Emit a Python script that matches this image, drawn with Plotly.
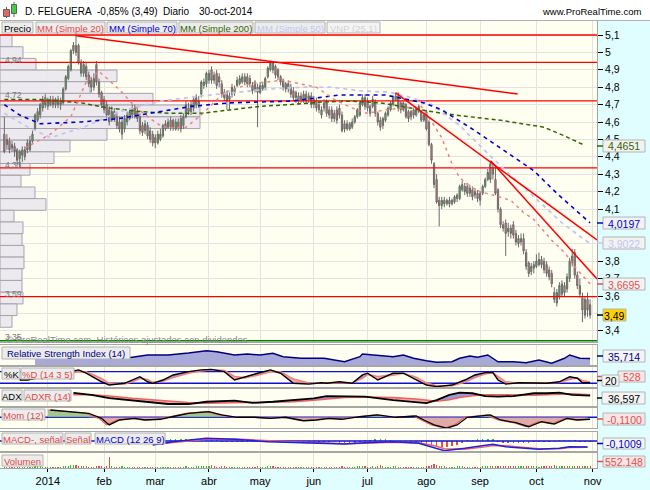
import plotly.graph_objects as go

W, H = 650, 490
PLOT_R = 597
X_RANGE = [-18.7, 214.7]
FONT = "Liberation Sans, Arial, sans-serif"


def px(x):
    return x / W


def py(y):
    return 1 - y / H


# ---------------------------------------------------------------- data
day = list(range(-17, 213))  # trading-day index, 0 = 2 Jan 2014

open_ = [4.53, 4.50, 4.49, 4.47, 4.46, 4.44, 4.39, 4.44, 4.40, 4.48,
         4.44, 4.49, 4.56, 4.61, 4.64, 4.68, 4.74, 4.69, 4.70, 4.73,
         4.70, 4.73, 4.72, 4.71, 4.79, 4.85, 4.90, 5.01, 5.04, 5.04,
         4.94, 4.88, 4.92, 4.87, 4.84, 4.80, 4.93, 4.83, 4.77, 4.73,
         4.70, 4.67, 4.61, 4.66, 4.63, 4.60, 4.53, 4.56, 4.60, 4.62,
         4.64, 4.68, 4.66, 4.63, 4.58, 4.55, 4.58, 4.55, 4.53, 4.51,
         4.48, 4.50, 4.52, 4.56, 4.57, 4.61, 4.61, 4.56, 4.60, 4.62,
         4.58, 4.63, 4.68, 4.66, 4.68, 4.70, 4.70, 4.76, 4.81, 4.82,
         4.84, 4.90, 4.87, 4.88, 4.86, 4.82, 4.77, 4.77, 4.75, 4.76,
         4.77, 4.81, 4.82, 4.83, 4.86, 4.86, 4.85, 4.81, 4.83, 4.80,
         4.77, 4.79, 4.80, 4.86, 4.90, 4.94, 4.92, 4.90, 4.86, 4.84,
         4.82, 4.79, 4.80, 4.78, 4.77, 4.75, 4.73, 4.73, 4.76, 4.73,
         4.75, 4.73, 4.72, 4.70, 4.64, 4.68, 4.71, 4.67, 4.67, 4.65,
         4.67, 4.68, 4.64, 4.59, 4.56, 4.59, 4.57, 4.60, 4.63, 4.64,
         4.70, 4.74, 4.72, 4.69, 4.69, 4.71, 4.65, 4.61, 4.58, 4.61,
         4.64, 4.67, 4.70, 4.73, 4.75, 4.71, 4.67, 4.70, 4.66, 4.66,
         4.67, 4.64, 4.66, 4.66, 4.61, 4.66, 4.60, 4.47, 4.36, 4.27,
         4.15, 4.12, 4.15, 4.13, 4.15, 4.13, 4.14, 4.16, 4.16, 4.21,
         4.23, 4.23, 4.19, 4.21, 4.20, 4.19, 4.19, 4.19, 4.23, 4.27,
         4.36, 4.30, 4.27, 4.21, 4.10, 4.01, 4.02, 3.99, 3.99, 4.01,
         3.96, 3.90, 3.91, 3.93, 3.85, 3.79, 3.74, 3.78, 3.77, 3.78,
         3.81, 3.80, 3.78, 3.75, 3.73, 3.62, 3.56, 3.60, 3.61, 3.66,
         3.64, 3.70, 3.79, 3.85, 3.72, 3.66, 3.59, 3.49, 3.58, 3.55]

high_ = [4.63, 4.53, 4.51, 4.49, 4.48, 4.45, 4.44, 4.46, 4.46, 4.50,
         4.52, 4.55, 4.65, 4.68, 4.71, 4.75, 4.76, 4.74, 4.75, 4.75,
         4.74, 4.75, 4.74, 4.80, 4.87, 4.93, 5.02, 5.06, 5.10, 5.05,
         4.96, 4.95, 4.94, 4.89, 4.86, 4.88, 4.95, 4.85, 4.78, 4.75,
         4.72, 4.69, 4.69, 4.68, 4.66, 4.63, 4.62, 4.64, 4.66, 4.68,
         4.70, 4.70, 4.68, 4.65, 4.60, 4.61, 4.60, 4.57, 4.55, 4.53,
         4.55, 4.56, 4.59, 4.61, 4.62, 4.63, 4.62, 4.62, 4.62, 4.64,
         4.65, 4.72, 4.71, 4.72, 4.75, 4.76, 4.75, 4.84, 4.85, 4.89,
         4.90, 4.92, 4.89, 4.90, 4.88, 4.84, 4.79, 4.78, 4.77, 4.82,
         4.81, 4.86, 4.87, 4.88, 4.88, 4.88, 4.87, 4.83, 4.84, 4.82,
         4.83, 4.83, 4.86, 4.92, 4.95, 4.95, 4.93, 4.91, 4.87, 4.85,
         4.83, 4.84, 4.82, 4.80, 4.78, 4.77, 4.77, 4.78, 4.78, 4.77,
         4.77, 4.75, 4.74, 4.72, 4.69, 4.73, 4.73, 4.69, 4.69, 4.67,
         4.69, 4.70, 4.66, 4.61, 4.61, 4.60, 4.62, 4.64, 4.68, 4.72,
         4.76, 4.76, 4.74, 4.70, 4.75, 4.73, 4.66, 4.63, 4.63, 4.66,
         4.69, 4.72, 4.75, 4.77, 4.77, 4.72, 4.72, 4.71, 4.67, 4.67,
         4.68, 4.68, 4.70, 4.67, 4.65, 4.67, 4.61, 4.48, 4.37, 4.30,
         4.17, 4.17, 4.17, 4.16, 4.17, 4.16, 4.18, 4.19, 4.24, 4.26,
         4.25, 4.25, 4.24, 4.23, 4.22, 4.21, 4.20, 4.24, 4.28, 4.33,
         4.38, 4.36, 4.34, 4.22, 4.11, 4.03, 4.04, 4.02, 4.01, 4.03,
         3.98, 3.95, 3.96, 3.96, 3.87, 3.80, 3.79, 3.80, 3.84, 3.85,
         3.83, 3.82, 3.80, 3.77, 3.75, 3.65, 3.64, 3.68, 3.69, 3.68,
         3.73, 3.82, 3.87, 3.87, 3.74, 3.70, 3.62, 3.60, 3.62, 3.58]

low_ = [4.42, 4.44, 4.42, 4.43, 4.40, 4.35, 4.34, 4.37, 4.38, 4.42,
        4.43, 4.48, 4.55, 4.60, 4.62, 4.66, 4.68, 4.67, 4.69, 4.68,
        4.68, 4.68, 4.67, 4.70, 4.78, 4.84, 4.89, 4.99, 4.98, 4.93,
        4.86, 4.86, 4.84, 4.80, 4.77, 4.78, 4.81, 4.74, 4.68, 4.65,
        4.62, 4.58, 4.60, 4.60, 4.56, 4.54, 4.50, 4.54, 4.58, 4.61,
        4.62, 4.62, 4.60, 4.53, 4.52, 4.53, 4.50, 4.48, 4.46, 4.45,
        4.47, 4.49, 4.51, 4.55, 4.56, 4.55, 4.55, 4.55, 4.55, 4.54,
        4.56, 4.62, 4.64, 4.64, 4.66, 4.68, 4.68, 4.74, 4.79, 4.80,
        4.82, 4.82, 4.82, 4.79, 4.80, 4.74, 4.72, 4.67, 4.67, 4.74,
        4.75, 4.80, 4.81, 4.82, 4.81, 4.80, 4.80, 4.76, 4.77, 4.57,
        4.76, 4.78, 4.79, 4.85, 4.89, 4.88, 4.85, 4.84, 4.81, 4.78,
        4.77, 4.77, 4.74, 4.72, 4.71, 4.70, 4.71, 4.71, 4.71, 4.71,
        4.68, 4.68, 4.66, 4.65, 4.62, 4.66, 4.63, 4.62, 4.60, 4.60,
        4.59, 4.62, 4.54, 4.54, 4.55, 4.55, 4.56, 4.59, 4.62, 4.63,
        4.69, 4.67, 4.66, 4.63, 4.68, 4.63, 4.58, 4.55, 4.56, 4.60,
        4.63, 4.66, 4.69, 4.72, 4.66, 4.65, 4.66, 4.62, 4.60, 4.61,
        4.62, 4.63, 4.65, 4.60, 4.60, 4.55, 4.46, 4.36, 4.22, 4.13,
        4.00, 4.10, 4.11, 4.12, 4.11, 4.12, 4.13, 4.14, 4.15, 4.20,
        4.18, 4.17, 4.17, 4.15, 4.16, 4.14, 4.12, 4.18, 4.22, 4.26,
        4.25, 4.27, 4.18, 4.08, 3.99, 3.97, 3.83, 3.94, 3.93, 3.93,
        3.89, 3.88, 3.89, 3.84, 3.75, 3.71, 3.72, 3.73, 3.76, 3.77,
        3.76, 3.73, 3.71, 3.69, 3.65, 3.56, 3.54, 3.58, 3.60, 3.60,
        3.62, 3.68, 3.77, 3.70, 3.64, 3.59, 3.45, 3.47, 3.48, 3.47]

close_ = [4.43, 4.47, 4.44, 4.45, 4.43, 4.38, 4.43, 4.41, 4.44, 4.44,
          4.49, 4.53, 4.64, 4.66, 4.70, 4.73, 4.70, 4.72, 4.73, 4.70,
          4.73, 4.70, 4.70, 4.79, 4.86, 4.92, 5.01, 5.04, 5.00, 4.94,
          4.88, 4.93, 4.86, 4.82, 4.80, 4.85, 4.83, 4.76, 4.70, 4.67,
          4.64, 4.60, 4.66, 4.62, 4.58, 4.56, 4.60, 4.62, 4.64, 4.66,
          4.68, 4.64, 4.62, 4.55, 4.54, 4.59, 4.52, 4.50, 4.48, 4.48,
          4.53, 4.53, 4.58, 4.59, 4.60, 4.57, 4.57, 4.60, 4.57, 4.56,
          4.63, 4.70, 4.66, 4.70, 4.73, 4.74, 4.72, 4.83, 4.83, 4.88,
          4.88, 4.84, 4.84, 4.81, 4.83, 4.76, 4.74, 4.72, 4.73, 4.80,
          4.79, 4.84, 4.85, 4.86, 4.83, 4.82, 4.82, 4.78, 4.79, 4.77,
          4.81, 4.81, 4.85, 4.91, 4.94, 4.90, 4.87, 4.86, 4.83, 4.80,
          4.79, 4.82, 4.76, 4.74, 4.74, 4.72, 4.75, 4.76, 4.72, 4.75,
          4.70, 4.70, 4.68, 4.67, 4.67, 4.71, 4.65, 4.64, 4.62, 4.62,
          4.61, 4.64, 4.55, 4.56, 4.59, 4.56, 4.60, 4.63, 4.67, 4.71,
          4.74, 4.69, 4.68, 4.65, 4.73, 4.65, 4.60, 4.57, 4.62, 4.65,
          4.68, 4.71, 4.74, 4.75, 4.68, 4.67, 4.71, 4.63, 4.62, 4.63,
          4.64, 4.67, 4.69, 4.61, 4.64, 4.56, 4.47, 4.38, 4.24, 4.14,
          4.12, 4.15, 4.13, 4.15, 4.13, 4.15, 4.17, 4.18, 4.23, 4.24,
          4.20, 4.19, 4.22, 4.17, 4.18, 4.16, 4.15, 4.23, 4.27, 4.31,
          4.27, 4.34, 4.19, 4.10, 4.01, 3.99, 3.96, 3.97, 3.96, 3.95,
          3.91, 3.93, 3.93, 3.86, 3.77, 3.73, 3.77, 3.76, 3.80, 3.81,
          3.78, 3.75, 3.73, 3.71, 3.67, 3.58, 3.62, 3.66, 3.67, 3.62,
          3.71, 3.80, 3.83, 3.72, 3.66, 3.61, 3.52, 3.58, 3.52, 3.49]

volume_k = [320, 280, 250, 300, 260, 340, 420, 310, 290, 270,
            300, 350, 600, 520, 480, 450, 380, 400, 420, 360,
            380, 330, 420, 640, 580, 700, 900, 760, 820, 640,
            560, 520, 480, 450, 400, 430, 700, 520, 480, 440,
            500, 3300, 520, 420, 380, 400, 460, 420, 380, 350,
            330, 360, 340, 420, 380, 340, 400, 380, 360, 420,
            350, 320, 380, 340, 300, 320, 290, 310, 330, 300,
            340, 480, 420, 380, 450, 520, 480, 600, 560, 640,
            520, 900, 480, 450, 420, 520, 460, 440, 400, 380,
            420, 380, 360, 340, 320, 380, 350, 330, 360, 600,
            400, 380, 420, 520, 600, 480, 440, 400, 380, 360,
            340, 320, 350, 330, 310, 300, 320, 300, 280, 290,
            300, 320, 280, 300, 340, 320, 380, 300, 290, 310,
            330, 350, 520, 420, 360, 340, 380, 400, 460, 520,
            560, 480, 420, 400, 520, 440, 560, 800, 480, 420,
            400, 420, 460, 520, 440, 400, 380, 420, 360, 340,
            320, 360, 340, 380, 420, 560, 700, 900, 1100, 800,
            700, 520, 460, 420, 380, 400, 420, 600, 520, 480,
            440, 400, 380, 420, 400, 380, 420, 460, 480, 560,
            640, 520, 620, 700, 640, 560, 520, 480, 600, 560,
            520, 480, 500, 640, 700, 560, 520, 480, 460, 440,
            480, 520, 560, 600, 640, 900, 700, 520, 500, 480,
            560, 720, 640, 600, 560, 580, 620, 700, 600, 552]

# moving averages
sma20_day = [-9, 1, 9, 15, 20, 24, 29, 34, 40, 45, 54, 60, 69, 79, 92, 99, 105, 112, 119,
             125, 132, 138, 146, 151, 154, 158, 161, 165, 169, 174, 181, 186, 190, 197, 202, 207, 212]
sma20_val = [4.45, 4.53, 4.63, 4.83, 4.89, 4.84, 4.77, 4.69, 4.62, 4.57, 4.57, 4.64, 4.77, 4.82,
             4.84, 4.82, 4.80, 4.73, 4.68, 4.65, 4.67, 4.68, 4.69, 4.58, 4.51, 4.36, 4.28, 4.23,
             4.20, 4.18, 4.15, 4.08, 4.04, 3.92, 3.85, 3.75, 3.67]
sma50_day = [-17, -9, 1, 14, 28, 44, 60, 75, 87, 99, 111, 122, 134, 142, 150, 161, 174, 193, 201, 212]
sma50_val = [4.65, 4.58, 4.51, 4.57, 4.66, 4.72, 4.75, 4.77, 4.79, 4.80, 4.80, 4.78, 4.77,
             4.74, 4.70, 4.58, 4.39, 4.13, 4.02, 3.90]
sma70_day = [-17, -11, -3, 13, 28, 44, 56, 71, 95, 106, 114, 132, 147, 154, 167, 178, 190, 199, 212]
sma70_val = [4.70, 4.64, 4.59, 4.60, 4.62, 4.66, 4.69, 4.71, 4.72, 4.74, 4.755, 4.755, 4.71,
             4.67, 4.55, 4.44, 4.32, 4.19, 4.02]
sma200_day = [-17, -3, 13, 24, 36, 48, 60, 71, 83, 95, 107, 118, 130, 142, 154, 165, 177, 194, 202, 210]
sma200_val = [4.73, 4.73, 4.71, 4.68, 4.66, 4.65, 4.65, 4.67, 4.69, 4.70, 4.715, 4.72, 4.71,
              4.68, 4.65, 4.63, 4.61, 4.57, 4.52, 4.465]

# drawn support / resistance levels and trend lines (day, price, day, price)
levels = [5.10, 4.943, 4.721, 4.336, 3.596]
baseline_level = 3.343
trend_lines = [(11.1, 5.096, 183.7, 4.761),
               (136.0, 4.767, 214.7, 3.922),
               (173.2, 4.376, 214.7, 3.698)]

# volume-at-price profile (VNP 25)
profile_price = [5.066, 4.999, 4.932, 4.865, 4.798, 4.731, 4.664, 4.596, 4.529, 4.462,
                 4.395, 4.328, 4.260, 4.193, 4.126, 4.059, 3.992, 3.924, 3.857, 3.790,
                 3.723, 3.656, 3.588, 3.521, 3.454]
profile_volume = [12, 23, 36, 117, 90, 153, 200, 200, 107, 70, 54, 30, 21, 35, 46, 14, 23,
                  22, 24, 24, 22, 22, 23, 17, 12]
profile_labels = [("4,94", 4.932), ("4,72", 4.731), ("4,33", 4.328), ("3,59", 3.588), ("3,35", 3.345)]

# indicators
rsi_day = [-5, 10, 20, 31, 39, 47, 55, 62, 66, 73, 78, 83, 88, 92, 99, 108, 116, 122, 123, 127,
           135, 139, 143, 148, 152, 158, 161, 165, 168, 172, 176, 182, 187, 192, 197, 202, 204, 208, 212]
rsi_val = [50, 60, 42, 38, 50, 50, 58, 67, 63, 50, 54, 50, 57, 43, 37, 37, 23, 43, 54, 50,
           43, 50, 37, 27, 21, 23, 37, 46, 41, 50, 23, 23, 19, 30, 17, 37, 50, 37, 36]

sto_day = [-11, -8, 12, 15, 21, 24, 30, 33, 36, 39, 41, 45, 49, 55, 60, 64, 69, 73, 77, 82,
           87, 91, 96, 102, 107, 109, 114, 119, 123, 125, 129, 135, 139, 144, 148, 152, 158, 163, 167, 171,
           174, 176, 179, 184, 190, 195, 200, 204, 207, 209, 212]
sto_k = [37, 37, 89, 72, 28, 11, 20, 37, 54, 28, 20, 37, 63, 80, 89, 92, 80, 37, 54, 72,
         89, 72, 20, 16, 23, 20, 28, 20, 63, 72, 37, 72, 72, 37, 11, 3, 11, 37, 63, 75,
         75, 37, 16, 23, 20, 20, 28, 54, 46, 23, 23]
sto_d = [40, 38, 80, 80, 45, 20, 16, 28, 45, 40, 25, 30, 50, 72, 84, 90, 86, 55, 48, 62,
         80, 80, 42, 22, 20, 21, 24, 23, 45, 65, 55, 62, 72, 52, 22, 8, 7, 25, 50, 68,
         74, 55, 28, 20, 21, 20, 24, 40, 48, 35, 27]
sto_levels = [80, 20]

adx_day = [10, 17, 24, 33, 47, 55, 62, 73, 80, 88, 96, 104, 109, 116, 124, 135, 144, 148, 152, 157,
           161, 166, 171, 176, 182, 190, 195, 200, 205, 212]
adx_val = [46, 39, 28, 19, 7, 7, 15, 19, 11, 15, 21, 27, 35, 33, 33, 21, 12, 10, 21, 39,
           47, 45, 35, 33, 35, 45, 45, 47, 39, 36.6]
adxr_val = [40, 40, 35, 27, 18, 12, 10, 12, 14, 13, 15, 20, 25, 30, 32, 30, 25, 20, 17, 22,
            30, 36, 40, 40, 38, 38, 40, 42, 43, 40]

mom_day = [0, 8, 15, 20, 23, 27, 33, 37, 43, 49, 54, 62, 67, 73, 80, 86, 92, 99, 104, 109,
           114, 121, 128, 135, 143, 146, 150, 155, 159, 163, 168, 172, 176, 182, 187, 192, 197, 202, 206, 211]
mom_val = [0.40, 0.31, 0.22, -0.06, -0.42, -0.15, -0.06, -0.15, -0.11, 0.07,
           0.22, 0.31, 0.13, 0.0, 0.0, -0.06, 0.0, -0.19, -0.15, -0.06,
           -0.11, 0.03, 0.13, 0.0, 0.07, -0.15, -0.42, -0.60, -0.42, 0.0,
           0.07, 0.13, -0.15, -0.30, -0.52, -0.24, -0.37, -0.06, -0.15, -0.11]

macd_day = [41, 49, 62, 73, 86, 99, 109, 116, 124, 135, 145, 152, 155, 163, 171, 174, 179, 187, 192, 200, 204, 211]
macd_val = [-0.068, -0.012, 0.046, 0.029, -0.012, -0.029, -0.039, -0.051, -0.029, -0.012,
            -0.039, -0.124, -0.165, -0.124, -0.068, -0.056, -0.097, -0.124, -0.141, -0.124, -0.097, -0.101]
signal_val = [-0.06, -0.03, 0.03, 0.035, 0.005, -0.02, -0.032, -0.045, -0.038, -0.02,
              -0.03, -0.09, -0.13, -0.14, -0.10, -0.075, -0.08, -0.11, -0.13, -0.13, -0.11, -0.105]
hist_day = list(range(44, 213, 2))
hist_val = [0.02, 0.02, 0.03, 0.03, 0.03, 0.03, 0.03, 0.03, 0.03, 0.02, 0.02, 0.01,
            -0.01, -0.01, -0.02, -0.02, -0.02, -0.02, -0.02, -0.02, -0.02, -0.01, -0.01,
            -0.01, -0.02, -0.02, -0.02, -0.02, -0.02, -0.02, -0.02, -0.01, -0.01, -0.01,
            -0.02, -0.03, -0.03, -0.03, -0.03, -0.02,
            0.02, 0.02, 0.03, 0.03, 0.03, 0.02,
            -0.01, -0.02, -0.02, -0.02, -0.03, -0.04,
            -0.06, -0.08, -0.09, -0.10, -0.10, -0.09, -0.07, -0.04,
            0.01, 0.02, 0.03, 0.03, 0.04, 0.03,
            -0.02, -0.03, -0.04, -0.04, -0.04, -0.03, -0.03, -0.02, -0.02, -0.02, -0.01, -0.01,
            0.01, 0.02, 0.02, 0.02,
            -0.01, -0.01, -0.01]

month_pos = [0, 22, 42, 63, 83, 104, 125, 148, 169, 191, 213]
month_lbl = ['2014', 'feb', 'mar', 'abr', 'may', 'jun', 'jul', 'ago', 'sep', 'oct', 'nov']
price_ticks = [5.1, 5.0, 4.9, 4.8, 4.7, 4.6, 4.5, 4.4, 4.3, 4.2, 4.1, 3.8, 3.7, 3.6, 3.4]
price_tick_text = ['5,1', '5', '4,9', '4,8', '4,7', '4,6', '4,5', '4,4', '4,3', '4,2', '4,1',
                   '3,8', '3,7', '3,6', '3,4']
price_grid = [5.1, 5.0, 4.9, 4.8, 4.7, 4.6, 4.5, 4.4, 4.3, 4.2, 4.1, 4.0, 3.9, 3.8, 3.7, 3.6, 3.5, 3.4]

# ---------------------------------------------------------------- figure
fig = go.Figure()

# volume profile on the base main axes
fig.add_trace(go.Bar(x=profile_volume, y=profile_price, orientation='h', width=0.0672,
                     marker=dict(color='rgba(234,231,238,0.88)', line=dict(color='#A8A2AC', width=1)),
                     xaxis='x', yaxis='y', hoverinfo='skip'))

# price chart on overlay axis x2
for lv in levels:
    fig.add_trace(go.Scatter(x=X_RANGE, y=[lv, lv], mode='lines', line=dict(color='#FF0000', width=1.3),
                             xaxis='x2', yaxis='y', hoverinfo='skip'))
fig.add_trace(go.Scatter(x=X_RANGE, y=[baseline_level] * 2, mode='lines', line=dict(color='#008000', width=1.5),
                         xaxis='x2', yaxis='y', hoverinfo='skip'))

fig.add_trace(go.Candlestick(x=day, open=open_, high=high_, low=low_, close=close_,
                             xaxis='x2', yaxis='y', whiskerwidth=0,
                             increasing=dict(fillcolor='#44CC44', line=dict(color='#6A6A6A', width=1)),
                             decreasing=dict(fillcolor='#F07878', line=dict(color='#6A6A6A', width=1)),
                             hoverinfo='skip'))

ma_styles = [(sma200_day, sma200_val, '#336600', 1.5, '4px,3px'),
             (sma50_day, sma50_val, '#C4C4F2', 1.8, '4px,4px'),
             (sma70_day, sma70_val, '#0000CC', 1.6, '4px,4px'),
             (sma20_day, sma20_val, '#F08080', 1.5, '3px,4px')]
for dx, dv, col, wd, ds in ma_styles:
    fig.add_trace(go.Scatter(x=dx, y=dv, mode='lines', line=dict(color=col, width=wd, dash=ds),
                             xaxis='x2', yaxis='y', hoverinfo='skip'))

for d0, p0, d1, p1 in trend_lines:
    fig.add_trace(go.Scatter(x=[d0, d1], y=[p0, p1], mode='lines', line=dict(color='#FF0000', width=1.5),
                             xaxis='x2', yaxis='y', hoverinfo='skip'))

# RSI
fig.add_trace(go.Scatter(x=rsi_day, y=rsi_val, mode='lines', fill='tozeroy',
                         fillcolor='rgba(160,160,214,0.9)', line=dict(color='#00007A', width=1.4),
                         xaxis='x3', yaxis='y3', hoverinfo='skip'))


def band(xs, a, b, xa, ya, col_up, col_dn):
    upper = [max(p, q) for p, q in zip(a, b)]
    lower = [min(p, q) for p, q in zip(a, b)]
    fig.add_trace(go.Scatter(x=xs, y=b, mode='lines', line=dict(width=0), xaxis=xa, yaxis=ya, hoverinfo='skip'))
    fig.add_trace(go.Scatter(x=xs, y=upper, mode='lines', line=dict(width=0), fill='tonexty',
                             fillcolor=col_up, xaxis=xa, yaxis=ya, hoverinfo='skip'))
    fig.add_trace(go.Scatter(x=xs, y=b, mode='lines', line=dict(width=0), xaxis=xa, yaxis=ya, hoverinfo='skip'))
    fig.add_trace(go.Scatter(x=xs, y=lower, mode='lines', line=dict(width=0), fill='tonexty',
                             fillcolor=col_dn, xaxis=xa, yaxis=ya, hoverinfo='skip'))


# Stochastic
for lv in sto_levels:
    fig.add_trace(go.Scatter(x=X_RANGE, y=[lv, lv], mode='lines', line=dict(color='#1010D0', width=1.4),
                             xaxis='x4', yaxis='y4', hoverinfo='skip'))
band(sto_day, sto_k, sto_d, 'x4', 'y4', 'rgba(110,110,220,0.75)', 'rgba(240,140,140,0.75)')
fig.add_trace(go.Scatter(x=sto_day, y=sto_d, mode='lines', line=dict(color='#F08080', width=1.5),
                         xaxis='x4', yaxis='y4', hoverinfo='skip'))
fig.add_trace(go.Scatter(x=sto_day, y=sto_k, mode='lines', line=dict(color='#000000', width=1.4),
                         xaxis='x4', yaxis='y4', hoverinfo='skip'))

# ADX
band(adx_day, adx_val, adxr_val, 'x5', 'y5', 'rgba(120,120,210,0.75)', 'rgba(240,140,140,0.75)')
fig.add_trace(go.Scatter(x=adx_day, y=adxr_val, mode='lines', line=dict(color='#F06060', width=1.5),
                         xaxis='x5', yaxis='y5', hoverinfo='skip'))
fig.add_trace(go.Scatter(x=adx_day, y=adx_val, mode='lines', line=dict(color='#000000', width=1.8),
                         xaxis='x5', yaxis='y5', hoverinfo='skip'))

# Momentum
fig.add_trace(go.Scatter(x=X_RANGE, y=[0, 0], mode='lines', line=dict(color='#1010D0', width=1.4),
                         xaxis='x6', yaxis='y6', hoverinfo='skip'))
fig.add_trace(go.Scatter(x=mom_day, y=[max(v, 0) for v in mom_val], mode='lines', fill='tozeroy',
                         fillcolor='rgba(140,185,120,0.8)', line=dict(width=0),
                         xaxis='x6', yaxis='y6', hoverinfo='skip'))
fig.add_trace(go.Scatter(x=mom_day, y=[min(v, 0) for v in mom_val], mode='lines', fill='tozeroy',
                         fillcolor='rgba(215,150,150,0.8)', line=dict(width=0),
                         xaxis='x6', yaxis='y6', hoverinfo='skip'))
fig.add_trace(go.Scatter(x=mom_day, y=mom_val, mode='lines', line=dict(color='#E86060', width=1.2),
                         xaxis='x6', yaxis='y6', hoverinfo='skip'))
fig.add_trace(go.Scatter(x=[d + 1 for d in mom_day], y=mom_val, mode='lines', line=dict(color='#000000', width=1.3),
                         xaxis='x6', yaxis='y6', hoverinfo='skip'))

# MACD
fig.add_trace(go.Scatter(x=X_RANGE, y=[0, 0], mode='lines', line=dict(color='#1010D0', width=1.4),
                         xaxis='x7', yaxis='y7', hoverinfo='skip'))
fig.add_trace(go.Bar(x=hist_day, y=hist_val, width=0.6,
                     marker=dict(color=['#33BB33' if v > 0 else '#E05050' for v in hist_val], line=dict(width=0)),
                     xaxis='x7', yaxis='y7', hoverinfo='skip'))
fig.add_trace(go.Scatter(x=macd_day, y=signal_val, mode='lines', line=dict(color='#F06060', width=1.5),
                         xaxis='x7', yaxis='y7', hoverinfo='skip'))
fig.add_trace(go.Scatter(x=macd_day, y=macd_val, mode='lines', line=dict(color='#2020E0', width=1.5),
                         xaxis='x7', yaxis='y7', hoverinfo='skip'))

# Volume
vol_colors = ['#33BB33' if c >= o else '#E05050' for o, c in zip(open_, close_)]
fig.add_trace(go.Bar(x=day, y=volume_k, width=0.45, marker=dict(color=vol_colors, line=dict(width=0)),
                     xaxis='x8', yaxis='y8', hoverinfo='skip'))

# ---------------------------------------------------------------- axes
panels = {
    '': (21, 342), '3': (345, 365), '4': (367, 387), '5': (389, 406),
    '6': (408, 428), '7': (432, 451), '8': (453, 468),
}
yranges = {'': [3.3356, 5.1805], '3': [10, 90], '4': [1, 104], '5': [0, 60],
           '6': [-0.59, 0.51], '7': [-0.17, 0.153], '8': [0, 4500]}
GRID = '#E3E3E3'
BORDER = '#A6A6A6'
xdom = [0, PLOT_R / W]

layout = dict(
    width=W, height=H, margin=dict(l=0, r=0, t=0, b=0, autoexpand=False),
    paper_bgcolor='#FFFFFF', plot_bgcolor='#FEFEF1',
    showlegend=False, hovermode=False, template='none',
    font=dict(family=FONT, size=10, color='#000000'),
    separators=',.', bargap=0,
)
layout['xaxis'] = dict(domain=xdom, range=[0, PLOT_R], anchor='y', visible=False, fixedrange=True)
layout['xaxis2'] = dict(overlaying='x', anchor='y', range=X_RANGE, tickvals=month_pos, showticklabels=False,
                        showgrid=True, gridcolor=GRID, zeroline=False, showline=True, mirror=True,
                        linecolor=BORDER, ticks='', rangeslider=dict(visible=False))
layout['yaxis'] = dict(domain=[py(342), py(21)], range=yranges[''], anchor='x', side='right',
                       tickvals=price_ticks, ticktext=price_tick_text, ticks='outside', ticklen=5,
                       tickcolor='#000000', tickfont=dict(size=10.5, family=FONT), showgrid=False,
                       zeroline=False, showline=True, mirror=True, linecolor=BORDER)
# separate invisible axis just for the horizontal price grid
layout['yaxis9'] = dict(domain=[py(342), py(21)], range=yranges[''], anchor='x', overlaying='y',
                        tickvals=price_grid, showticklabels=False, ticks='', showgrid=True,
                        gridcolor=GRID, zeroline=False, showline=False)
for k in ['3', '4', '5', '6', '7', '8']:
    y0, y1 = panels[k]
    xa = dict(domain=xdom, anchor='y' + k, range=X_RANGE, tickvals=month_pos, showticklabels=False,
              showgrid=True, gridcolor=GRID, zeroline=False, showline=True, mirror=True,
              linecolor=BORDER, ticks='')
    if k == '8':
        xa.update(showticklabels=True, ticktext=month_lbl, ticks='outside', ticklen=3,
                  tickcolor='#000000', tickfont=dict(size=11, family=FONT))
    layout['xaxis' + k] = xa
    layout['yaxis' + k] = dict(domain=[py(y1), py(y0)], range=yranges[k], anchor='x' + k, side='right',
                               showticklabels=False, showgrid=False, zeroline=False, showline=True,
                               mirror=True, linecolor=BORDER, ticks='')
fig.update_layout(**layout)
# a dummy trace so the grid axis exists
fig.add_trace(go.Scatter(x=[None], y=[None], xaxis='x', yaxis='y9', hoverinfo='skip'))

# ---------------------------------------------------------------- decorations
shapes = []
annotations = []


def rect(x0, y0, x1, y1, fill, line='#A8A8A8', layer='above', lw=1):
    shapes.append(dict(type='rect', xref='paper', yref='paper', x0=px(x0), x1=px(x1), y0=py(y1), y1=py(y0),
                       fillcolor=fill, line=dict(color=line, width=lw), layer=layer))


def hline(x0, x1, y, color, lw=1):
    shapes.append(dict(type='line', xref='paper', yref='paper', x0=px(x0), x1=px(x1), y0=py(y), y1=py(y),
                       line=dict(color=color, width=lw)))


def vline(x, y0, y1, color, lw=1):
    shapes.append(dict(type='line', xref='paper', yref='paper', x0=px(x), x1=px(x), y0=py(y0), y1=py(y1),
                       line=dict(color=color, width=lw)))


def text(t, x, y, color='#000000', size=10, anchor='left'):
    annotations.append(dict(text=t, xref='paper', yref='paper', x=px(x), y=py(y), xanchor=anchor,
                            yanchor='middle', showarrow=False, font=dict(family=FONT, size=size, color=color)))


# background bands
rect(PLOT_R, 21, W, H, '#E0FDFF', line='rgba(0,0,0,0)', layer='below')
rect(0, 468, W, H, '#E0FDFF', line='rgba(0,0,0,0)', layer='below')
hline(0, W, 20.5, '#B0B0B0')

# title bar
vline(6.5, 7, 18, '#606060')
rect(3.5, 9.5, 9.5, 16.5, '#E06868', line='#606060')
vline(14, 2, 17, '#606060')
rect(11.5, 4.5, 16.5, 13.5, '#44CC44', line='#606060')
text('D. FELGUERA', 23, 11, size=10)
text('-0,85% (3,49)', 95, 11, size=10)
text('Diario', 161, 11, size=10)
text('30-oct-2014', 197, 11, size=10)
text('www.ProRealTime.com', 643, 11, size=9.5, anchor='right')

# legend boxes
boxes = [
    ('Precio', 2, 33, 22, 33, '#000000'),
    ('MM (Simple 20)', 36, 105, 22, 33, '#E04848'),
    ('MM (Simple 70)', 107, 177, 22, 33, '#0000CC'),
    ('MM (Simple 200)', 179, 253, 22, 33, '#336600'),
    ('MM (Simple 50)', 255, 325, 22, 33, '#C4C4F0'),
    ('VNP (25,1)', 327, 380, 22, 33, '#D2D2D2'),
    ('Relative Strength Index (14)', 2, 130, 347, 359, '#000080'),
    ('%K', 2, 20, 368, 379, '#000000'),
    ('%D (14 3 5)', 21, 74, 368, 379, '#E04848'),
    ('ADX', 2, 22, 390, 401, '#000000'),
    ('ADXR (14)', 24, 71, 390, 401, '#E04848'),
    ('Mom (12)', 2, 45, 409, 420, '#E04848'),
    ('MACD-, señal', 2, 63, 433, 444, '#E04848'),
    ('Señal', 65, 91, 433, 444, '#E04848'),
    ('MACD (12 26 9)', 95, 165, 433, 444, '#0000CC'),
    ('Volumen', 2, 43, 455, 466, '#E04848'),
]
for t, x0, x1, y0, y1, col in boxes:
    fill = '#F4F4F4' if t == 'VNP (25,1)' else '#ECECEC'
    rect(x0, y0, x1, y1, fill, line='#B4B4B4')
    text(t, (x0 + x1) / 2, (y0 + y1) / 2 + 0.5, color=col, size=9.5, anchor='center')

# volume profile labels (data coordinates)
for lab, pr in profile_labels:
    annotations.append(dict(text=lab, xref='x', yref='y', x=3, y=pr + 0.022, xanchor='left', yanchor='middle',
                            showarrow=False, font=dict(family=FONT, size=8.5, color='#777777')))

text('© ProRealTime.com  Históricos ajustados con dividendos', 4, 339.5, color='#8A8A8A', size=9.5)

# right-hand value boxes
value_boxes = [
    ('4,4651', 603, 645, 140, 152, '#336600', '#F2F2F2'),
    ('4,0197', 603, 645, 217, 229, '#0000CC', '#F2F2F2'),
    ('3,9022', 603, 645, 237, 249, '#C4C4F0', '#F2F2F2'),
    ('3,6695', 603, 645, 278, 290, '#E05050', '#F2F2F2'),
    ('3,49', 603, 626, 309, 321, '#000000', '#FFD200'),
    ('35,714', 603, 645, 350, 362, '#000080', '#F4F4F4'),
    ('528', 618, 645, 371, 382, '#E05050', '#F8E6E6'),
    ('20', 602, 619, 375, 386, '#000000', '#F4F4F4'),
    ('36,597', 602, 645, 392, 404, '#000000', '#F4F4F4'),
    ('-0,1100', 603, 645, 413, 425, '#E05050', '#F8E6E6'),
    ('-0,1009', 603, 645, 438, 449, '#0000CC', '#F4F4F4'),
    ('552.148', 603, 645, 456, 467, '#E05050', '#FAE6E6'),
]
for t, x0, x1, y0, y1, col, fill in value_boxes:
    rect(x0, y0, x1, y1, fill, line='#B4B4B4')
    hline(PLOT_R, x0, (y0 + y1) / 2, col, lw=1.5)
    text(t, (x0 + x1) / 2, (y0 + y1) / 2 + 0.5, color=col, size=10.5, anchor='center')

fig.update_layout(shapes=shapes, annotations=annotations)

fig.write_html("out.html", config={'displayModeBar': False, 'staticPlot': True},
               post_script="document.body.style.margin='0';document.body.style.padding='0';")
